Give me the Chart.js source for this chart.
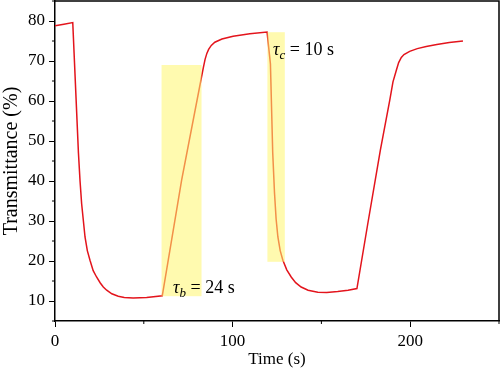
<!DOCTYPE html>
<html lang="en">

<head>
    <meta charset="UTF-8">
    <title>Transmittance</title>
    <script src="https://cdn.jsdelivr.net/npm/chart.js"></script>
    <style>
        body { margin: 0; background: #fff; }
    </style>
</head>

<body>
    <canvas id="myChart" width="500" height="375"></canvas>

<script>
    // curve: time (s) and transmittance (%)
    const tempos = [0, 5, 10, 13.2, 14.1, 15, 16.9, 18.2, 19.7, 21.5, 23.4, 25.5, 27.2, 29.1, 32, 35.6, 39, 44, 51.6, 60.4,
        71.3, 82.5, 83.5, 84.5, 85.5, 86.5, 88, 90, 94, 100.3, 109.7, 119.4,
        121.3, 122.6, 123.6, 124.5, 125.5, 126.8, 128.3, 130.5, 133, 135.5, 138.6, 142.5, 148, 153, 159.2, 165, 170,
        176, 183.2, 188.5, 190.3, 192.2, 193.5, 195, 196.5, 199.7, 204, 209, 215, 222, 229.7];
    const transmitancia = [78.8, 79.2, 79.6, 47, 40, 34.3, 26, 22.6, 20.2, 17.6, 16, 14.5, 13.5, 12.7, 11.8, 11.2, 10.9, 10.75, 10.9, 11.3,
        40.2, 66, 68.3, 70.4, 71.9, 72.9, 73.9, 74.7, 75.5, 76.2, 76.8, 77.25,
        69.3, 47, 37, 30.5, 26, 22.6, 20.2, 17.8, 16, 14.6, 13.5, 12.7, 12.2, 12.15, 12.35, 12.7, 13.1,
        29, 47.7, 60.2, 64.8, 67.7, 69.6, 70.9, 71.6, 72.4, 73.1, 73.6, 74.1, 74.6, 75];

    // shaded response windows
    const faixaInicio = [60, 119.6];
    const faixaFim = [82.5, 129.4];
    const faixaBaixo = [11.2, 19.8];
    const faixaAlto = [69, 77.2];

    // annotations: subscript letter, rest of the text, anchor (time, value)
    const rotuloSub = ['b', 'c'];
    const rotuloTexto = [' = 24 s', ' = 10 s'];
    const rotuloX = [66.5, 122.8];
    const rotuloY = [12.0, 71.6];

    const ticksX = [0, 100, 200];
    const ticksY = [10, 20, 30, 40, 50, 60, 70, 80];
    const menoresX = [50, 150, 250];
    const menoresY = [5, 15, 25, 35, 45, 55, 65, 75, 85];

    const fonte = "'Liberation Serif', 'DejaVu Serif', serif";

    const pontos = tempos.map((t, i) => ({ x: t, y: transmitancia[i] }));

    const pluginExtras = {
        id: 'extras',
        afterDatasetsDraw(chart) {
            const ctx = chart.ctx;
            const x = chart.scales.x, y = chart.scales.y;
            ctx.save();
            ctx.fillStyle = 'rgba(255, 246, 110, 0.55)';
            for (let i = 0; i < faixaInicio.length; i++) {
                const x0 = x.getPixelForValue(faixaInicio[i]);
                const x1 = x.getPixelForValue(faixaFim[i]);
                const y0 = y.getPixelForValue(faixaAlto[i]);
                const y1 = y.getPixelForValue(faixaBaixo[i]);
                ctx.fillRect(x0, y0, x1 - x0, y1 - y0);
            }
            ctx.restore();
        },
        afterDraw(chart) {
            const ctx = chart.ctx;
            const a = chart.chartArea;
            const x = chart.scales.x, y = chart.scales.y;
            ctx.save();
            // frame top and right
            ctx.strokeStyle = '#000';
            ctx.lineWidth = 1.5;
            ctx.beginPath();
            ctx.moveTo(a.left, a.top);
            ctx.lineTo(a.right, a.top);
            ctx.lineTo(a.right, a.bottom);
            ctx.stroke();

            // minor ticks
            ctx.lineWidth = 1;
            ctx.beginPath();
            menoresX.forEach(v => {
                const px = x.getPixelForValue(v);
                ctx.moveTo(px, a.bottom);
                ctx.lineTo(px, a.bottom + 3);
            });
            menoresY.forEach(v => {
                const py = y.getPixelForValue(v);
                ctx.moveTo(a.left, py);
                ctx.lineTo(a.left - 3, py);
            });
            ctx.stroke();

            // annotations
            ctx.fillStyle = '#000';
            ctx.textBaseline = 'alphabetic';
            for (let i = 0; i < rotuloSub.length; i++) {
                let px = x.getPixelForValue(rotuloX[i]);
                const py = y.getPixelForValue(rotuloY[i]);
                ctx.font = 'italic 18px ' + fonte;
                ctx.fillText('τ', px, py);
                px += ctx.measureText('τ').width;
                ctx.font = 'italic 13px ' + fonte;
                ctx.fillText(rotuloSub[i], px, py + 4);
                px += ctx.measureText(rotuloSub[i]).width;
                ctx.font = '18px ' + fonte;
                ctx.fillText(rotuloTexto[i], px, py);
            }
            ctx.restore();
        }
    };

    const config = {
        type: 'line',
        data: {
            datasets: [{
                data: pontos,
                borderColor: '#e3141c',
                borderWidth: 1.5,
                pointRadius: 0,
                tension: 0,
                fill: false
            }]
        },
        options: {
            responsive: false,
            animation: false,
            layout: { padding: { top: 1, right: 1, left: 0, bottom: 0 } },
            plugins: {
                legend: { display: false },
                tooltip: { enabled: false }
            },
            scales: {
                x: {
                    type: 'linear',
                    min: 0,
                    max: 250,
                    afterBuildTicks: s => { s.ticks = ticksX.map(v => ({ value: v })); },
                    afterFit: s => { s.height = 54; s.paddingLeft = 0; s.paddingRight = 0; },
                    grid: { drawOnChartArea: false, tickLength: 6, tickWidth: 1, tickColor: '#000' },
                    border: { color: '#000', width: 1.5 },
                    ticks: { color: '#000', padding: 4, font: { family: fonte, size: 17 } },
                    title: {
                        display: true,
                        text: 'Time (s)',
                        color: '#000',
                        padding: { top: 0, bottom: 5 },
                        font: { family: fonte, size: 17 }
                    }
                },
                y: {
                    min: 5,
                    max: 85,
                    afterBuildTicks: s => { s.ticks = ticksY.map(v => ({ value: v })); },
                    afterFit: s => { s.width = 55; s.paddingTop = 0; s.paddingBottom = 0; },
                    grid: { drawOnChartArea: false, tickLength: 6, tickWidth: 1, tickColor: '#000' },
                    border: { color: '#000', width: 1.5 },
                    ticks: { color: '#000', padding: 4, font: { family: fonte, size: 17 } },
                    title: {
                        display: true,
                        text: 'Transmittance (%)',
                        color: '#000',
                        padding: { top: 0, bottom: 0 },
                        font: { family: fonte, size: 20 }
                    }
                }
            }
        },
        plugins: [pluginExtras]
    };

    const grafico = new Chart(document.getElementById('myChart'), config);
</script>
</body>

</html>
